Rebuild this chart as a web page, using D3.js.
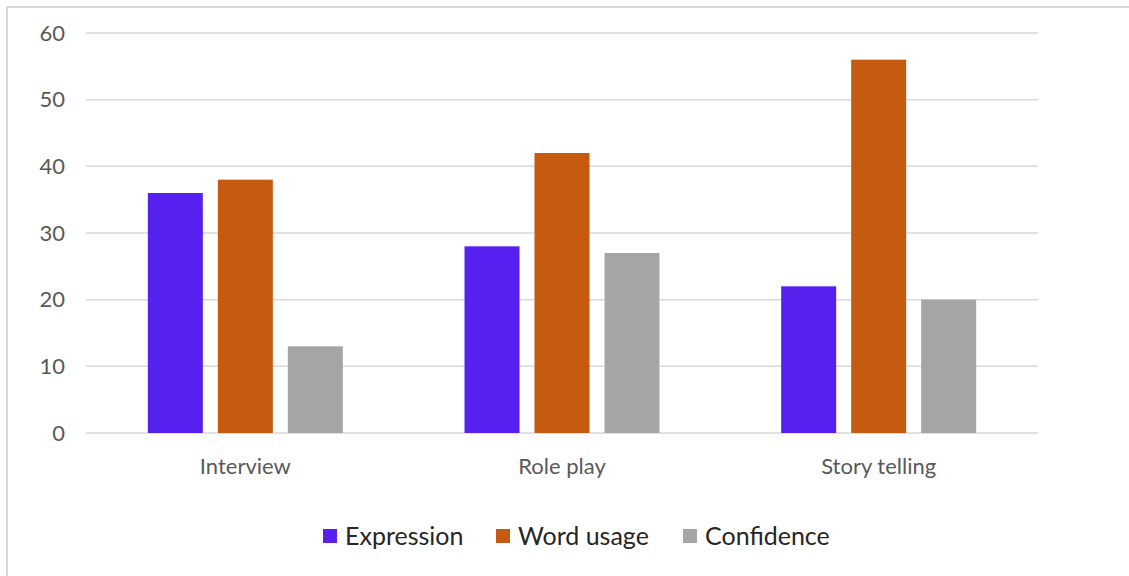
<!DOCTYPE html>
<html lang="en">
<head>
    <meta charset="UTF-8">
    <title>Activity chart</title>
    <style>
        body { margin: 0; background: #fff; }
        svg { display: block; }
    </style>
</head>
<body>
    <svg width="1129" height="576"></svg>
    <script src="https://d3js.org/d3.v7.min.js"></script>
    <script>
        // chart values
        var categories = ["Interview", "Role play", "Story telling"];
        var seriesNames = ["Expression", "Word usage", "Confidence"];
        var expression = [36, 28, 22];
        var wordUsage = [38, 42, 56];
        var confidence = [13, 27, 20];
        var yTicks = [0, 10, 20, 30, 40, 50, 60];
        var colors = ["#5620ef", "#c55a11", "#a5a5a5"];

        var seriesValues = [expression, wordUsage, confidence];

        var svg = d3.select("svg");
        var font = "Lato, 'Open Sans', sans-serif";

        // outer frame of the chart (runs off the right and bottom edge)
        svg.append("rect")
            .attr("x", 7).attr("y", 7)
            .attr("width", 1200).attr("height", 700)
            .attr("fill", "none")
            .attr("stroke", "#d9d9d9")
            .attr("stroke-width", 2);

        var plotLeft = 87, plotRight = 1037, plotTop = 33, plotBottom = 433;

        var y = d3.scaleLinear().domain([0, 60]).range([plotBottom, plotTop]);
        var x0 = d3.scaleBand().domain(categories).range([plotLeft, plotRight]).paddingInner(0).paddingOuter(0);
        var groupWidth = 195;
        var x1 = d3.scaleBand().domain(seriesNames)
            .range([0, groupWidth]).paddingInner(15 / 70).paddingOuter(0);

        // gridlines
        svg.append("g")
            .selectAll("line")
            .data(yTicks)
            .join("line")
            .attr("x1", plotLeft - 1).attr("x2", plotRight + 1)
            .attr("y1", function (d) { return y(d); })
            .attr("y2", function (d) { return y(d); })
            .attr("stroke", "#d9d9d9")
            .attr("stroke-width", 1.5);

        // y axis labels
        var yAxis = d3.axisLeft(y).tickValues(yTicks).tickSize(0).tickPadding(0);
        var yg = svg.append("g")
            .attr("transform", "translate(65,0)")
            .call(yAxis);
        yg.select(".domain").remove();
        yg.selectAll("text")
            .attr("font-family", font)
            .attr("font-size", 22)
            .attr("fill", "#595959");

        // bars
        var rows = [];
        categories.forEach(function (c, i) {
            seriesNames.forEach(function (s, j) {
                rows.push({ cat: c, series: s, value: seriesValues[j][i], color: colors[j] });
            });
        });

        var offset = (x0.bandwidth() - groupWidth) / 2;
        svg.append("g")
            .selectAll("rect")
            .data(rows)
            .join("rect")
            .attr("x", function (d) { return x0(d.cat) + offset + x1(d.series); })
            .attr("y", function (d) { return y(d.value); })
            .attr("width", x1.bandwidth())
            .attr("height", function (d) { return plotBottom - y(d.value); })
            .attr("fill", function (d) { return d.color; });

        // category labels
        var xAxis = d3.axisBottom(x0).tickSize(0).tickPadding(0);
        var xg = svg.append("g")
            .attr("transform", "translate(0," + (plotBottom + 41) + ")")
            .call(xAxis);
        xg.select(".domain").remove();
        xg.selectAll("text")
            .attr("dy", 0)
            .attr("font-family", font)
            .attr("font-size", 22)
            .attr("fill", "#595959");

        // legend
        var legendX = [323, 496, 683];
        var legend = svg.append("g")
            .selectAll("g")
            .data(seriesNames)
            .join("g")
            .attr("transform", function (d, i) { return "translate(" + legendX[i] + ",529)"; });

        legend.append("rect")
            .attr("width", 14).attr("height", 14)
            .attr("fill", function (d, i) { return colors[i]; });

        legend.append("text")
            .attr("x", 22).attr("y", 16)
            .attr("font-family", font)
            .attr("font-size", 25)
            .attr("fill", "#262626")
            .text(function (d) { return d; });
    </script>
</body>
</html>
